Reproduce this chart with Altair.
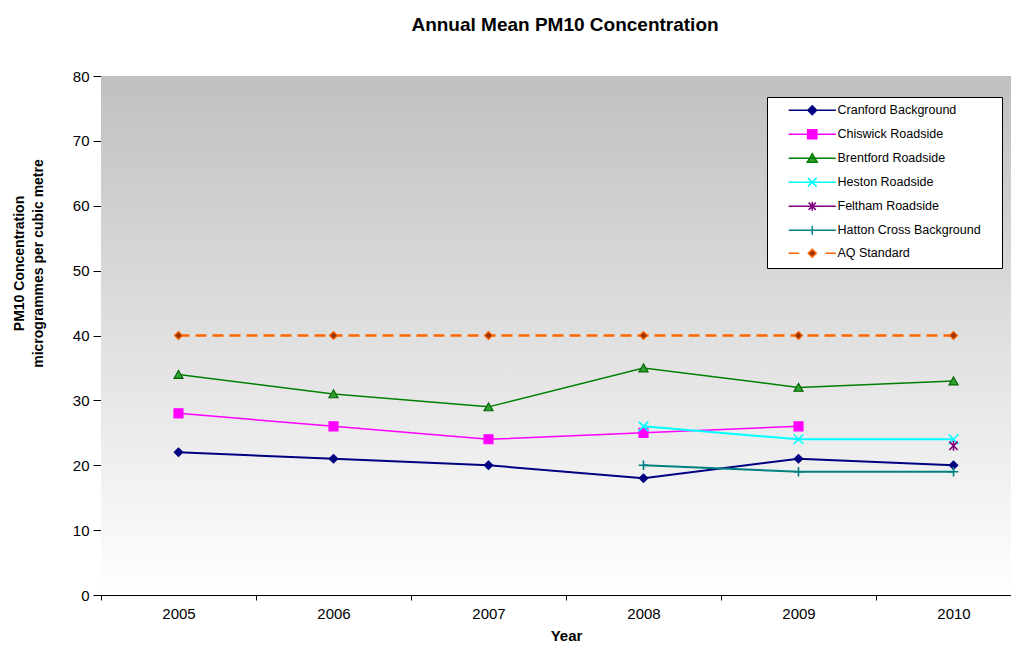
import altair as alt
import pandas as pd

# ---- data ----
years = ["2005", "2006", "2007", "2008", "2009", "2010"]
series_names = [
    "Cranford Background",
    "Chiswick Roadside",
    "Brentford Roadside",
    "Heston Roadside",
    "Feltham Roadside",
    "Hatton Cross Background",
    "AQ Standard",
]
cranford = [22, 21, 20, 18, 21, 20]
chiswick = [28, 26, 24, 25, 26, None]
brentford = [34, 31, 29, 35, 32, 33]
heston = [None, None, None, 26, 24, 24]
feltham = [None, None, None, None, None, 23]
hatton = [None, None, None, 20, 19, 19]
aq_standard = [40, 40, 40, 40, 40, 40]
y_ticks = [0, 10, 20, 30, 40, 50, 60, 70, 80]

values = [cranford, chiswick, brentford, heston, feltham, hatton, aq_standard]
rows = []
for name, vals in zip(series_names, values):
    for yr, v in zip(years, vals):
        if v is not None:
            rows.append({"year": yr, "series": name, "value": v})
df = pd.DataFrame(rows)

# ---- styles ----
FONT = "Liberation Sans"
PLOT_W = 910
RANGE_W = 930
PLOT_H = 519

styles = {
    "Cranford Background": dict(line="#000080", dash=None, sw=2, shape="diamond", size=72,
                                fill="#000080", stroke="#000080", filled=True),
    "Chiswick Roadside": dict(line="#FF00FF", dash=None, sw=1.5, shape="square", size=80,
                              fill="#FF00FF", stroke="#FF00FF", filled=True),
    "Brentford Roadside": dict(line="#008000", dash=None, sw=1.5, shape="triangle-up", size=80,
                               fill="#33A033", stroke="#006400", filled=True),
    "Heston Roadside": dict(line="#00FFFF", dash=None, sw=2, shape="M-1,-1L1,1M1,-1L-1,1", size=90,
                            fill="none", stroke="#00FFFF", filled=False),
    "Feltham Roadside": dict(line="#800080", dash=None, sw=1.6,
                             shape="M-1,-1L1,1M1,-1L-1,1M0,-1.2L0,1.2", size=70,
                             fill="none", stroke="#800080", filled=False),
    "Hatton Cross Background": dict(line="#008080", dash=None, sw=2, shape="M-1,0L1,0M0,-1L0,1",
                                    size=90, fill="none", stroke="#008080", filled=False),
    "AQ Standard": dict(line="#FF6600", dash=[11, 6], sw=2.5, shape="diamond", size=64,
                        fill="#993300", stroke="#FF6600", filled=True),
}

LINE = "M-5.9,0L5.9,0"
legend_paths = [
    LINE + "M0,-1.1L1.1,0L0,1.1L-1.1,0ZM44.7,0",
    LINE + "M-1.15,-1.15L1.15,-1.15L1.15,1.15L-1.15,1.15Z",
    LINE + "M0,-1.15L1.25,1L-1.25,1Z",
    LINE + "M-1.1,-1.1L1.1,1.1M1.1,-1.1L-1.1,1.1",
    LINE + "M-0.9,-0.9L0.9,0.9M0.9,-0.9L-0.9,0.9M0,-1.1L0,1.1",
    LINE + "M0,-1.1L0,1.1",
    "M-5.9,0L-3.3,0M3.3,0L5.9,0M0,-1L1,0L0,1L-1,0Z",
]
legend_strokes = [styles[n]["line"] for n in series_names]
legend_fills = [styles[n]["fill"] if styles[n]["filled"] else "transparent" for n in series_names]

x_enc = alt.X(
    "year:O",
    scale=alt.Scale(type="band", domain=years, range=[0, RANGE_W], paddingInner=0, paddingOuter=0),
    axis=alt.Axis(
        title="Year", tickBand="extent", tickSize=5, labelPadding=6, labelAngle=0,
        labelFont=FONT, labelFontSize=15, labelColor="black",
        titleFont=FONT, titleFontSize=15, titleFontWeight="bold", titleColor="black",
        titleY=40, titleBaseline="middle",
        domainColor="black", tickColor="black", grid=False,
    ),
)
y_enc = alt.Y(
    "value:Q",
    scale=alt.Scale(domain=[0, 80], nice=False, zero=True),
    axis=alt.Axis(
        title=["PM10 Concentration", "microgrammes per cubic metre"],
        values=y_ticks, tickSize=8, labelPadding=4, grid=False,
        labelFont=FONT, labelFontSize=15, labelColor="black",
        titleFont=FONT, titleFontSize=14, titleFontWeight="bold", titleColor="black",
        titleAngle=270, titleAlign="center", titleBaseline="middle",
        titleX=-82, titleY=187, titleLineHeight=19,
        domainColor="black", tickColor="black",
    ),
)

bg = alt.Chart(alt.Data(values=[{"k": 1}])).mark_rect(
    fill=alt.Gradient(
        gradient="linear",
        stops=[alt.GradientStop(color="#C0C0C0", offset=0), alt.GradientStop(color="#FFFFFF", offset=1)],
        x1=0, x2=0, y1=0, y2=1,
    )
).encode(x=alt.value(0), x2=alt.value(RANGE_W), y=alt.value(0), y2=alt.value(PLOT_H))

layers = [bg]
for name in series_names:
    st = styles[name]
    base = alt.Chart(df).transform_filter(alt.datum.series == name)
    line_kwargs = dict(color=st["line"], strokeWidth=st["sw"])
    if st["dash"]:
        line_kwargs["strokeDash"] = st["dash"]
    layers.append(base.mark_line(**line_kwargs).encode(x=x_enc, y=y_enc))
    pt_kwargs = dict(shape=st["shape"], size=st["size"], stroke=st["stroke"], opacity=1,
                     strokeWidth=1.2 if st["filled"] else 1.6, filled=st["filled"])
    if st["filled"]:
        pt_kwargs["fill"] = st["fill"]
    layers.append(base.mark_point(**pt_kwargs).encode(x=x_enc, y=y_enc))

leg = alt.Legend(
    title=None, orient="none", legendX=666, legendY=21,
    fillColor="white", strokeColor="black", padding=7,
    labelFont=FONT, labelFontSize=12.5, labelColor="black", labelLimit=400,
    symbolSize=64, symbolStrokeWidth=1.5, rowPadding=8,
    symbolOffset=32, labelOffset=19,
)
legend_layer = alt.Chart(df).transform_filter("false").mark_point(filled=False, opacity=1).encode(
    color=alt.Color("series:N", scale=alt.Scale(domain=series_names, range=legend_strokes), legend=leg),
    fill=alt.Fill("series:N", scale=alt.Scale(domain=series_names, range=legend_fills), legend=leg),
    shape=alt.Shape("series:N", scale=alt.Scale(domain=series_names, range=legend_paths), legend=leg),
)
layers.append(legend_layer)

chart = alt.layer(*layers).properties(
    width=PLOT_W, height=PLOT_H,
    autosize=alt.AutoSizeParams(type="none"),
    padding={"left": 93, "top": 68, "right": 0, "bottom": 48},
    title=alt.Title(
        "Annual Mean PM10 Concentration", font=FONT, fontSize=19, fontWeight="bold",
        color="black", anchor="middle", frame="group", baseline="alphabetic", offset=19, dx=9,
    ),
    background="white",
).configure_view(stroke=None)

chart.save("out.html", embed_options={"renderer": "svg", "actions": False})
